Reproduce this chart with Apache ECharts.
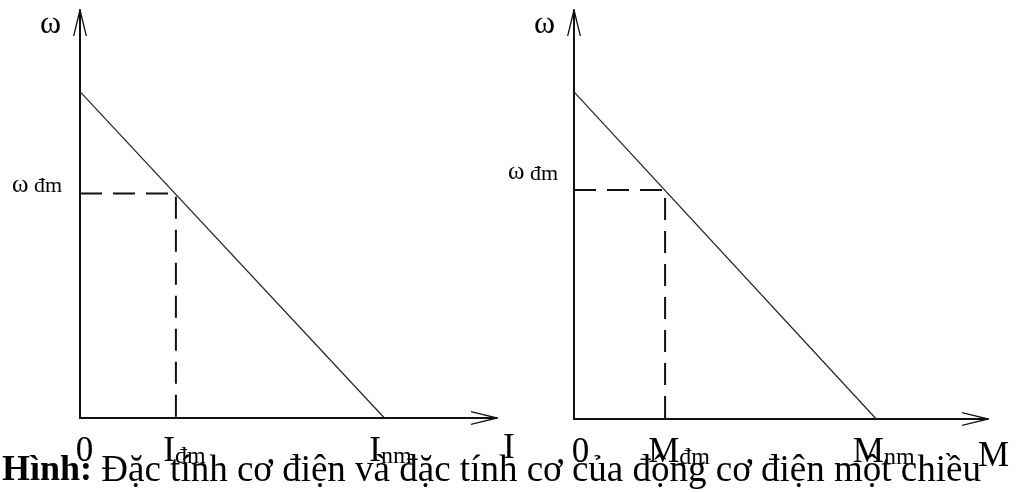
<!DOCTYPE html>
<html>
<head>
<meta charset="utf-8">
<script src="https://cdn.jsdelivr.net/npm/echarts@6/dist/echarts.min.js"></script>
<style>
  html, body { margin: 0; padding: 0; background: #fff; }
  #chart { width: 1018px; height: 492px; }
</style>
</head>
<body>
<div id="chart"></div>
<script>
// Đặc tính cơ điện ω(I) và đặc tính cơ ω(M) — đơn vị tương đối, trục 0..100
const omegaNoLoad = [80, 80];          // ω0 tại I = 0 và M = 0
const omegaRated = [55, 56];           // ω_đm
const currentRated = 23;               // I_đm
const currentShort = 73;               // I_nm
const torqueRated = 22;                // M_đm
const torqueShort = 73;                // M_nm

const leftTicks = [0, currentRated, currentShort];
const leftTickNames = ['0', ['I', 'đm'], ['I', 'nm']];
const rightTicks = [0, torqueRated, torqueShort];
const rightTickNames = ['0', ['M', 'đm'], ['M', 'nm']];

const captionBold = 'Hình:';
const captionText = ' Đặc tính cơ điện và đặc tính cơ của động cơ điện một chiều';

const FONT = '"Liberation Serif", "Times New Roman", serif';
const INK = '#111';
const arrowPath = 'path://M0,26 L6.3,0 L7.7,0 L14,26 L12.7,26 L7,3 L1.3,26 Z';

// nudges (px) that move each tick label right of its tick
const leftNudge = [9, 17, 12];
const rightNudge = [13, 28, 15];

function tickLabel(values, names, nudge) {
  const rich = { s: { fontFamily: FONT, fontSize: 24, lineHeight: 30, verticalAlign: 'bottom', color: '#000' } };
  names.forEach((n, i) => {
    rich['m' + i] = { fontFamily: FONT, fontSize: 35, lineHeight: 40, verticalAlign: 'bottom', color: '#000', padding: [0, 0, 0, nudge[i]] };
  });
  return {
    customValues: values,
    margin: 11,
    verticalAlign: 'top',
    rich: rich,
    formatter: function (v) {
      const i = values.indexOf(v);
      const n = names[i];
      if (Array.isArray(n)) return '{m' + i + '|' + n[0] + '}{s|' + n[1] + '}';
      return '{m' + i + '|' + n + '}';
    }
  };
}

function xAxisFor(gridIndex, ticks, names, nudge, axisName, nameGap, nameTop) {
  return {
    type: 'value', gridIndex: gridIndex, min: 0, max: 100,
    splitLine: { show: false },
    axisTick: { show: false },
    axisLine: { show: true, lineStyle: { color: INK, width: 2 }, symbol: ['none', arrowPath], symbolSize: [14, 26], symbolOffset: [0, -13] },
    axisLabel: tickLabel(ticks, names, nudge),
    name: axisName, nameLocation: 'end', nameGap: nameGap,
    nameTextStyle: { fontFamily: FONT, fontSize: 35, lineHeight: 40, color: '#000', align: 'left', verticalAlign: 'top', padding: [nameTop, 0, 0, 0] }
  };
}

function yAxisFor(gridIndex, rated, lift, margin) {
  return {
    type: 'value', gridIndex: gridIndex, min: 0, max: 100,
    splitLine: { show: false },
    axisTick: { show: false },
    axisLine: { show: true, lineStyle: { color: INK, width: 2 }, symbol: ['none', arrowPath], symbolSize: [14, 26], symbolOffset: [0, -13] },
    axisLabel: {
      customValues: [rated],
      margin: margin,
      align: 'right',
      verticalAlign: 'middle',
      padding: [0, 0, lift, 0],
      rich: {
        w: { fontFamily: FONT, fontSize: 25, lineHeight: 28, verticalAlign: 'bottom', color: '#000' },
        s: { fontFamily: FONT, fontSize: 22, lineHeight: 24, verticalAlign: 'bottom', color: '#000' }
      },
      formatter: function () { return '{w|ω}{s| đm}'; }
    },
    name: 'ω', nameLocation: 'end', nameGap: -15,
    nameTextStyle: { fontFamily: FONT, fontSize: 32, color: '#000', align: 'right', verticalAlign: 'middle', padding: [0, 19, 0, 0] }
  };
}

function characteristic(idx, w0, xShort) {
  return {
    type: 'line', xAxisIndex: idx, yAxisIndex: idx,
    data: [[0, w0], [xShort, 0]],
    showSymbol: false, silent: true,
    lineStyle: { color: '#222', width: 1.2 }
  };
}

function ratedGuide(idx, xRated, wRated) {
  return {
    type: 'line', xAxisIndex: idx, yAxisIndex: idx,
    data: [[0, wRated], [xRated, wRated], [xRated, 0]],
    showSymbol: false, silent: true,
    lineStyle: { color: INK, width: 2, type: [22, 11] }
  };
}

const chart = echarts.init(document.getElementById('chart'), null, { renderer: 'canvas' });
chart.setOption({
  animation: false,
  backgroundColor: '#fff',
  title: {
    left: 2, top: 453, padding: 0,
    text: '{b|' + captionBold + '}{r|' + captionText + '}',
    textStyle: {
      fontWeight: 'normal',
      rich: {
        b: { fontFamily: FONT, fontSize: 36, fontWeight: 'bold', color: '#000', lineHeight: 36 },
        r: { fontFamily: FONT, fontSize: 37, fontWeight: 'normal', color: '#000', lineHeight: 36 }
      }
    }
  },
  grid: [
    { left: 80, top: 10, width: 417, height: 408, outerBoundsMode: 'none' },
    { left: 574, top: 10, width: 414, height: 409, outerBoundsMode: 'none' }
  ],
  xAxis: [
    xAxisFor(0, leftTicks, leftTickNames, leftNudge, 'I', 6, 11),
    xAxisFor(1, rightTicks, rightTickNames, rightNudge, 'M', -10, 18)
  ],
  yAxis: [
    yAxisFor(0, omegaRated[0], 20, 18),
    yAxisFor(1, omegaRated[1], 38, 16)
  ],
  series: [
    characteristic(0, omegaNoLoad[0], currentShort),
    ratedGuide(0, currentRated, omegaRated[0]),
    characteristic(1, omegaNoLoad[1], torqueShort),
    ratedGuide(1, torqueRated, omegaRated[1])
  ]
});
</script>
</body>
</html>
